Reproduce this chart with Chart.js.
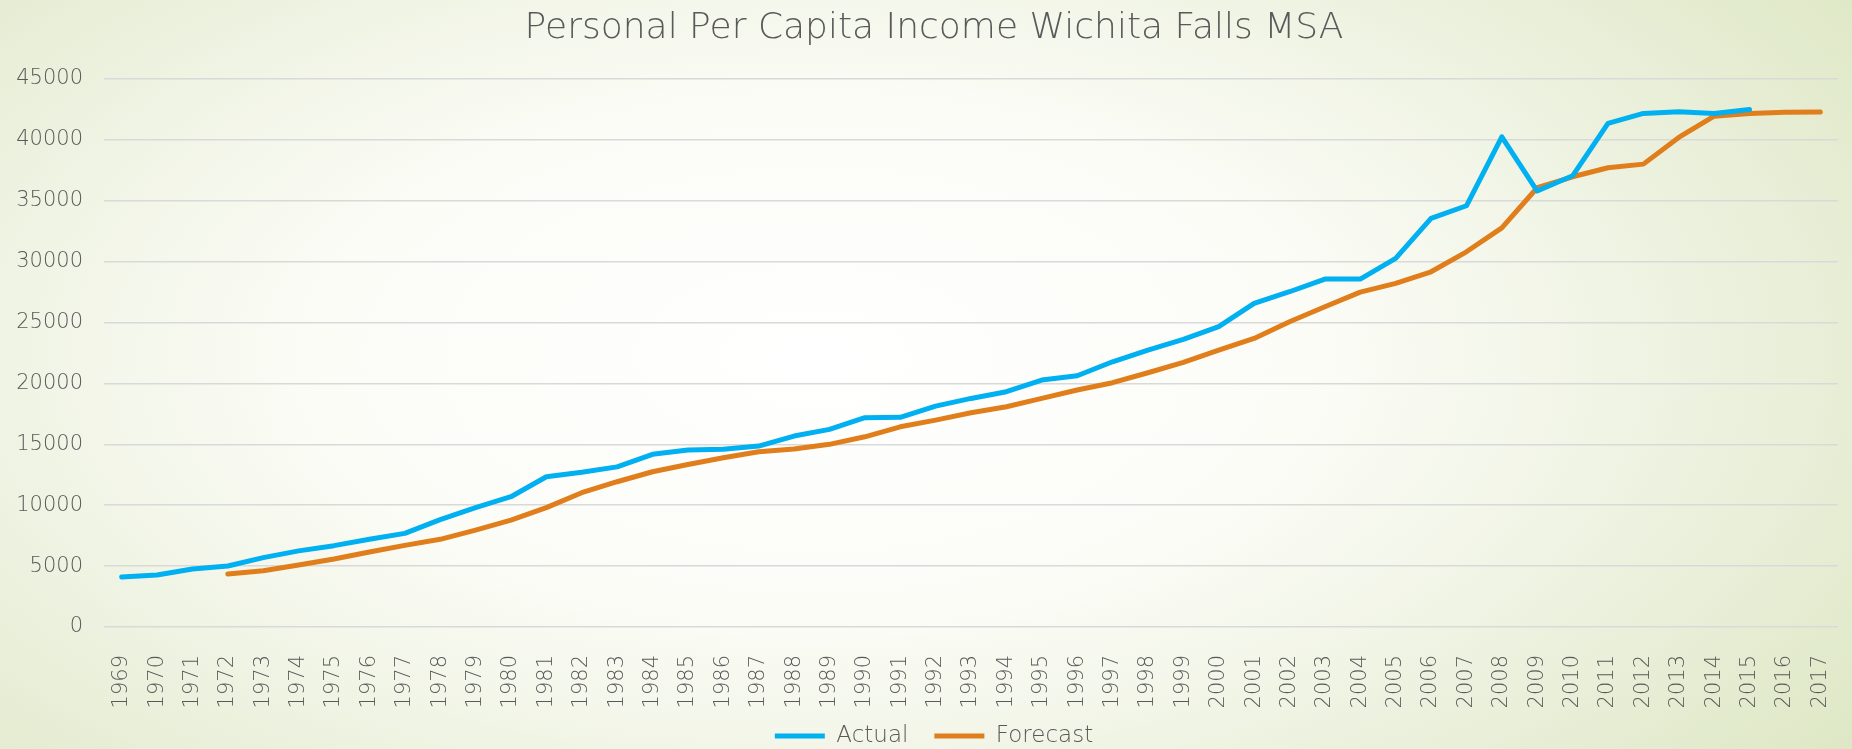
<!DOCTYPE html>
<html>
<head>
<meta charset="utf-8">
<script src="https://cdn.jsdelivr.net/npm/chart.js@4/dist/chart.umd.min.js"></script>
<style>
  html, body { margin: 0; padding: 0; }
  body {
    width: 1852px; height: 749px; overflow: hidden;
    background: radial-gradient(ellipse 72% 92% at 44% 48%, #ffffff 0%, #fbfcf6 38%, #ecf1de 68%, #dce6c1 100%);
  }
  #wrap { position: relative; width: 1852px; height: 749px; }
</style>
</head>
<body>
<div id="wrap"><canvas id="c"></canvas></div>
<script>
const years = ['1969','1970','1971','1972','1973','1974','1975','1976','1977','1978',
  '1979','1980','1981','1982','1983','1984','1985','1986','1987','1988',
  '1989','1990','1991','1992','1993','1994','1995','1996','1997','1998',
  '1999','2000','2001','2002','2003','2004','2005','2006','2007','2008',
  '2009','2010','2011','2012','2013','2014','2015','2016','2017'];

// Actual: 1969-2015
const actual = [4100,4270,4760,5010,5700,6250,6680,7200,7690,8820,
  9800,10700,12340,12700,13150,14180,14530,14590,14860,15680,
  16230,17190,17220,18140,18770,19320,20280,20630,21780,22740,
  23620,24660,26570,27530,28570,28570,30270,33550,34590,40250,
  35800,37050,41350,42170,42310,42170,42500,null,null];

// Forecast: 1972-2017
const forecast = [null,null,null,4350,4620,5090,5580,6160,6700,7200,
  7960,8780,9800,11030,11930,12750,13350,13900,14390,14610,
  15000,15620,16440,16990,17590,18090,18770,19460,20060,20880,
  21730,22740,23700,25070,26300,27500,28220,29170,30810,32780,
  36070,36970,37710,38010,40200,41950,42170,42260,42280];

const yTicks = [0,5000,10000,15000,20000,25000,30000,35000,40000,45000];

const FONT = "'DejaVu Sans', sans-serif";
const TXT = '#595959';

new Chart(document.getElementById('c'), {
  type: 'line',
  data: {
    labels: years,
    datasets: [
      { label: 'Actual', data: actual, borderColor: '#00B0F0', backgroundColor: '#00B0F0',
        borderWidth: 5, pointRadius: 0, pointHoverRadius: 0, tension: 0,
        borderCapStyle: 'round', borderJoinStyle: 'round', spanGaps: false },
      { label: 'Forecast', data: forecast, borderColor: '#E07E1C', backgroundColor: '#E07E1C',
        borderWidth: 5, pointRadius: 0, pointHoverRadius: 0, tension: 0,
        borderCapStyle: 'round', borderJoinStyle: 'round', spanGaps: false }
    ]
  },
  options: {
    responsive: true,
    maintainAspectRatio: false,
    animation: false,
    events: [],
    layout: { padding: { left: 16, right: 0, top: 0, bottom: -8.5 } },
    plugins: {
      title: {
        display: true,
        text: 'Personal Per Capita Income Wichita Falls MSA',
        color: TXT,
        font: { family: FONT, size: 36, weight: '200', lineHeight: 1.2 },
        padding: { top: 7, bottom: 28.8 }
      },
      legend: {
        display: true,
        position: 'bottom',
        labels: {
          color: TXT,
          font: { family: FONT, size: 23, weight: '200' },
          usePointStyle: true,
          pointStyle: 'line',
          pointStyleWidth: 50,
          padding: 26
        }
      },
      tooltip: { enabled: false }
    },
    scales: {
      x: {
        type: 'category',
        offset: true,
        grid: { display: false, drawTicks: false },
        border: { display: false },
        ticks: {
          color: TXT, font: { family: FONT, size: 21, weight: '200' },
          minRotation: 90, maxRotation: 90, autoSkip: false, padding: 28
        },
        afterFit: (s) => {
          s.height = 71.5;
          s.paddingLeft = 0;
          s.paddingRight = 14;
          s._computeLabelArea = () => undefined;
        }
      },
      y: {
        min: 0, max: 45000,
        afterBuildTicks: (s) => { s.ticks = yTicks.map(v => ({ value: v })); },
        grid: { color: '#d9d9d9', lineWidth: 1.5, drawTicks: false },
        border: { display: false },
        ticks: { color: TXT, font: { family: FONT, size: 21, weight: '200' }, padding: 21,
          callback: (v) => String(v) },
        afterFit: (s) => { s.width = 88; }
      }
    }
  }
});
</script>
</body>
</html>
